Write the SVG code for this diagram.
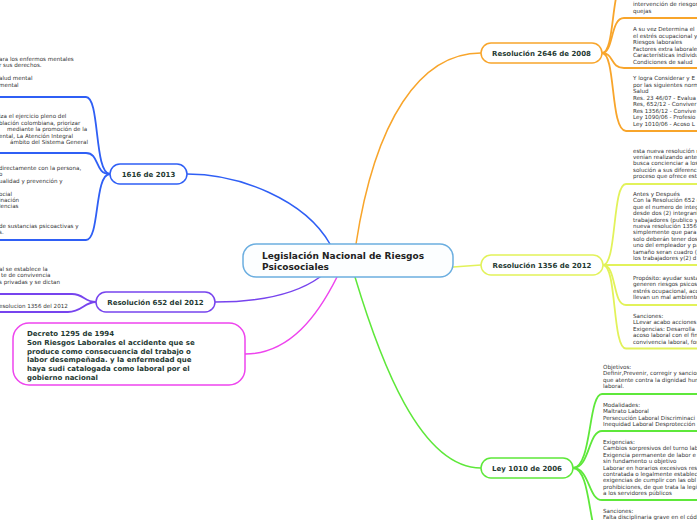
<svg xmlns="http://www.w3.org/2000/svg" width="697" height="520" viewBox="0 0 697 520">
<style>
.sub{font-family:"DejaVu Sans",Verdana,sans-serif;font-size:5.6px;fill:#333}
.nt{font-family:"DejaVu Sans",Verdana,sans-serif;font-weight:bold;font-size:7px;fill:#1f3a33;text-anchor:middle}
.c{fill:none;stroke-width:1.5;stroke-linecap:round}
.u{fill:none;stroke-width:1.8;stroke-linecap:round}
.box{fill:#fff;stroke-width:1.5}
</style>
<rect width="697" height="520" fill="#fff"/>
<g id="connectors">
  <path class="c" stroke="#2f5ff5" d="M330,244 C305,200 240,174 187,174"/>
  <path class="c" stroke="#f8a52b" d="M356,244 C375,120 420,53 481,53"/>
  <path class="c" stroke="#e2f25a" d="M453,267 L481,265"/>
  <path class="c" stroke="#7744ee" d="M320,277 C295,295 260,302 215,302"/>
  <path class="c" stroke="#ee44ee" d="M337,277 C318,315 290,354 245,354"/>
  <path class="c" stroke="#5ee83a" d="M355,277 C380,360 420,468 481,468"/>
  <!-- 2646 -->
  <path class="u" stroke="#f8a52b" d="M602,53 C616,53 610,-20 626,-20"/>
  <path class="u" stroke="#f8a52b" d="M602,53 C614,53 610,18 624,18 L697,18"/>
  <path class="u" stroke="#f8a52b" d="M602,53 C614,53 610,68 624,68 L697,68"/>
  <path class="u" stroke="#f8a52b" d="M602,53 C616,53 610,131 626,131 L697,131"/>
  <!-- 1356 -->
  <path class="u" stroke="#e2f25a" d="M603,265 C617,265 612,184 626,184 L697,184"/>
  <path class="u" stroke="#e2f25a" d="M603,265 L697,265"/>
  <path class="u" stroke="#e2f25a" d="M603,265 C617,265 612,305 626,305 L697,305"/>
  <path class="u" stroke="#e2f25a" d="M603,265 C617,265 612,348.5 626,348.5 L697,348.5"/>
  <!-- 1010 -->
  <path class="u" stroke="#5ee83a" d="M573,468 C592,468 588,394 602,394 L697,394"/>
  <path class="u" stroke="#5ee83a" d="M573,468 C590,468 588,431 602,431 L697,431"/>
  <path class="u" stroke="#5ee83a" d="M573,468 C590,468 588,500 602,500 L697,500"/>
  <path class="u" stroke="#5ee83a" d="M573,468 C592,468 588,540 602,540"/>
  <!-- 1616 -->
  <path class="u" stroke="#2f5ff5" d="M110,174 C94,174 100,97 86,97 L0,97"/>
  <path class="u" stroke="#2f5ff5" d="M110,174 C94,174 100,153 86,153 L0,153"/>
  <path class="u" stroke="#2f5ff5" d="M110,174 C94,174 100,240 86,240 L0,240"/>
  <!-- 652 -->
  <path class="u" stroke="#7744ee" d="M96,302 C84,302 84,294 72,294 L0,294"/>
  <path class="u" stroke="#7744ee" d="M96,302 C84,302 82,312 68,312 L0,312"/>
</g>
<g id="central">
  <rect x="243" y="244" width="210" height="33" rx="13" fill="#fcfeff" stroke="#6baee0" stroke-width="1.5"/>
  <text x="262" y="259" font-family="DejaVu Sans, Verdana, sans-serif" font-weight="bold" font-size="9" fill="#222">Legislación Nacional de Riesgos</text>
  <text x="262" y="270" font-family="DejaVu Sans, Verdana, sans-serif" font-weight="bold" font-size="9" fill="#222">Psicosociales</text>
</g>
<g id="n2646">
  <rect class="box" x="481" y="43" width="121" height="20" rx="10" stroke="#f8a52b"/>
  <text class="nt" x="541.5" y="56">Resolución 2646 de 2008</text>
</g>
<g id="n1356">
  <rect class="box" x="481" y="255" width="122" height="20" rx="10" stroke="#e2f25a"/>
  <text class="nt" x="542" y="268">Resolución 1356 de 2012</text>
</g>
<g id="n1010">
  <rect class="box" x="481" y="458" width="92" height="20" rx="10" stroke="#5ee83a"/>
  <text class="nt" x="527" y="471">Ley 1010 de 2006</text>
</g>
<g id="n1616">
  <rect class="box" x="110" y="164" width="77" height="20" rx="10" stroke="#2f5ff5"/>
  <text class="nt" x="148.5" y="177">1616 de 2013</text>
</g>
<g id="n652">
  <rect class="box" x="96" y="292" width="119" height="20" rx="10" stroke="#7744ee"/>
  <text class="nt" x="155.5" y="305">Resolución 652 del 2012</text>
</g>
<g id="decreto">
  <rect class="box" x="13" y="323" width="232" height="62" rx="16" stroke="#ee44ee"/>
  <g font-family="DejaVu Sans, Verdana, sans-serif" font-weight="bold" font-size="7" fill="#1f3a33">
    <text x="27" y="336">Decreto 1295 de 1994</text>
    <text x="27" y="344.8">Son  Riesgos Laborales el accidente que se</text>
    <text x="27" y="353.6">produce como consecuencia del trabajo o</text>
    <text x="27" y="362.4">labor desempeñada. y  la enfermedad que</text>
    <text x="27" y="371.2">haya sudi catalogada como laboral por el</text>
    <text x="27" y="380">gobierno nacional</text>
  </g>
</g>
<g id="sub2646" class="sub">
  <text x="633" y="6">intervención de riesgos</text>
  <text x="633" y="12.5">quejas</text>
  <text x="633" y="31">A su vez  Determina el</text>
  <text x="633" y="37.5">el estrés ocupacional y</text>
  <text x="633" y="44">Riesgos laborales</text>
  <text x="633" y="50.5">Factores extra laborales</text>
  <text x="633" y="57">Características individu</text>
  <text x="633" y="63.5"> Condiciones de salud</text>
  <text x="633" y="80">Y logra  Considerar y E</text>
  <text x="633" y="86.5">por las siguientes norm</text>
  <text x="633" y="93">Salud</text>
  <text x="633" y="99.5">Res. 23 46/07 - Evalua</text>
  <text x="633" y="106">Res, 652/12 - Conviver</text>
  <text x="633" y="112.5">Res 1356/12 - Convive</text>
  <text x="633" y="119">Ley 1090/06 - Profesio</text>
  <text x="633" y="125.5">Ley 1010/06 - Acoso L</text>
</g>
<g id="sub1356" class="sub">
  <text x="633" y="152.5">esta nueva resolución r</text>
  <text x="633" y="158.9">venían realizando antes</text>
  <text x="633" y="165.3">busca concienciar a los</text>
  <text x="633" y="171.7">solución a sus diferenci</text>
  <text x="633" y="178.1">proceso que ofrece esta</text>
  <text x="633" y="196">Antes y Después</text>
  <text x="633" y="202.4">Con la Resolución 652 c</text>
  <text x="633" y="208.8">que el numero de integ</text>
  <text x="633" y="215.2">desde dos (2) integrant</text>
  <text x="633" y="221.6">trabajadores (publico y</text>
  <text x="633" y="228">nueva resolución 1356</text>
  <text x="633" y="234.4">simplemente que para</text>
  <text x="633" y="240.8">solo deberán tener dos</text>
  <text x="633" y="247.2">uno del empleador y pa</text>
  <text x="633" y="253.6">tamaño seran cuadro (</text>
  <text x="633" y="260">los trabajadores y(2) d</text>
  <text x="633" y="280">Propósito: ayudar susta</text>
  <text x="633" y="286.4">generen riesgos psicos</text>
  <text x="633" y="292.8">estrés ocupacional, acc</text>
  <text x="633" y="299.2">llevan un mal ambiente</text>
  <text x="633" y="318">Sanciones:</text>
  <text x="633" y="324.4">LLevar acabo acciones</text>
  <text x="633" y="330.8">Exigencias: Desarrolla</text>
  <text x="633" y="337.2">acoso laboral con el fin</text>
  <text x="633" y="343.6">convivencia laboral, for</text>
</g>
<g id="sub1010" class="sub">
  <text x="603" y="369">Objetivos:</text>
  <text x="603" y="375.4">Definir,Prevenir, corregir y sancion</text>
  <text x="603" y="381.8">que atente contra la dignidad hum</text>
  <text x="603" y="388.2">laboral.</text>
  <text x="603" y="407">Modalidades:</text>
  <text x="603" y="413.4">Maltrato Laboral</text>
  <text x="603" y="419.8"> Persecución Laboral Discriminaci</text>
  <text x="603" y="426.2">Inequidad Laboral Desprotección</text>
  <text x="603" y="444">Exigencias:</text>
  <text x="603" y="450.4">Cambios sorpresivos del turno lab</text>
  <text x="603" y="456.8"> Exigencia permanente de labor e</text>
  <text x="603" y="463.2">sin fundamento u objetivo</text>
  <text x="603" y="469.6">Laborar en horarios excesivos res</text>
  <text x="603" y="476">contratada o legalmente establec</text>
  <text x="603" y="482.4">exigencias de cumplir con las obl</text>
  <text x="603" y="488.8">prohibiciones, de que trata la legi</text>
  <text x="603" y="495.2">a los servidores públicos</text>
  <text x="603" y="513">Sanciones:</text>
  <text x="603" y="519.4">Falta disciplinaria grave en el códi</text>
</g>
<g id="sub1616" class="sub">
  <text x="-1" y="61">ara los enfermos mentales</text>
  <text x="-1" y="67.4">r sus derechos.</text>
  <text x="-1" y="80.2">alud mental</text>
  <text x="-1" y="86.6">mental</text>
  <text x="-1" y="118">iza el ejercicio pleno del</text>
  <text x="-1" y="124.5">blación colombiana, priorizar</text>
  <text x="7" y="131">mediante la promoción de la</text>
  <text x="-1" y="137.5">ental, La Atención Integral</text>
  <text x="10" y="144">ámbito del Sistema General</text>
  <text x="-1" y="170">directamente con la persona,</text>
  <text x="-1" y="176.4">o</text>
  <text x="-1" y="182.8">ualidad y prevención y</text>
  <text x="-1" y="195.6">ocial</text>
  <text x="-1" y="202">inación</text>
  <text x="-1" y="208.4">lencias</text>
  <text x="-1" y="227.6">de sustancias psicoactivas y</text>
  <text x="-1" y="234">s.</text>
</g>
<g id="sub652" class="sub">
  <text x="-1" y="271">al se establece la</text>
  <text x="1" y="277.4">te de convivencia</text>
  <text x="-1" y="283.8">s privadas y se dictan</text>
  <text x="-1" y="308">esolucion 1356 del 2012</text>
</g>
</svg>
